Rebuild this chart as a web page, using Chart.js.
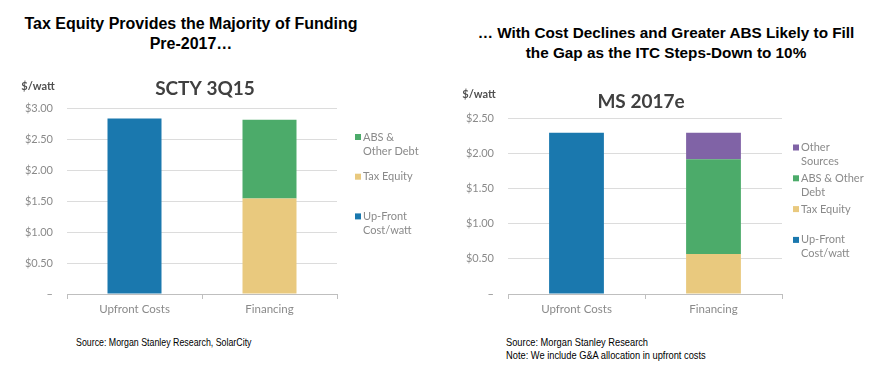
<!DOCTYPE html>
<html>
<head>
<meta charset="utf-8">
<script src="https://cdn.jsdelivr.net/npm/chart.js@4/dist/chart.umd.min.js"></script>
<style>
  html, body { margin: 0; padding: 0; background: #ffffff; }
  body { width: 874px; height: 376px; position: relative; overflow: hidden; font-family: "Liberation Sans", Arial, sans-serif; }
  .head { position: absolute; font-weight: bold; font-size: 16px; line-height: 20px; color: #000; text-align: center; white-space: nowrap; }
  .src { position: absolute; font-family: "Liberation Sans", Arial, sans-serif; font-size: 10.5px; line-height: 13px; color: #000; white-space: nowrap; transform-origin: 0 0; }
  canvas { position: absolute; }
</style>
</head>
<body>
<div class="head" style="left:0px; width:382px; top:14px;">Tax Equity Provides the Majority of Funding<br>Pre-2017…</div>
<div class="head" style="left:466px; width:400px; top:23px; font-size:15.3px;">… With Cost Declines and Greater ABS Likely to Fill<br>the Gap as the ITC Steps-Down to 10%</div>
<canvas id="c1" width="437" height="270" style="left:0px; top:60px;"></canvas>
<canvas id="c2" width="434" height="270" style="left:440px; top:60px;"></canvas>
<div class="src" style="left:76px; top:336px; transform:scaleX(0.84);">Source: Morgan Stanley Research, SolarCity</div>
<div class="src" style="left:506px; top:336px; transform:scaleX(0.885);">Source: Morgan Stanley Research<br>Note: We include G&amp;A allocation in upfront costs</div>
<script>
// ---- Data ----
const categories = ["Upfront Costs", "Financing"];

// Left chart: SCTY 3Q15
const leftTitle = "SCTY 3Q15";
const leftUpfront = [2.83, null];
const leftTaxEquity = [null, 1.54];
const leftABS = [null, 1.27];
const leftTicks = [0, 0.5, 1.0, 1.5, 2.0, 2.5, 3.0];

// Right chart: MS 2017e
const rightTitle = "MS 2017e";
const rightUpfront = [2.30, null];
const rightTaxEquity = [null, 0.57];
const rightABS = [null, 1.35];
const rightOther = [null, 0.38];
const rightTicks = [0, 0.5, 1.0, 1.5, 2.0, 2.5];

const unitLabel = "$/watt";
const leftLegendLines = {
  "Up-Front Cost/watt": ["Up-Front", "Cost/watt"],
  "Tax Equity": ["Tax Equity"],
  "ABS & Other Debt": ["ABS &", "Other Debt"]
};
const rightLegendLines = {
  "Up-Front Cost/watt": ["Up-Front", "Cost/watt"],
  "Tax Equity": ["Tax Equity"],
  "ABS & Other Debt": ["ABS & Other", "Debt"],
  "Other Sources": ["Other", "Sources"]
};

// ---- Styles ----
const BLUE = "#1a78ae", TAN = "#e9c97e", GREEN = "#4cab6a", PURPLE = "#8063a6";
const FONT = "Lato, 'Open Sans', sans-serif";
const TICK_COLOR = "#8a8a8a";
const DARK = "#404040";

const decorPlugin = {
  id: "decor",
  afterDraw(chart, args, opts) {
    const ctx = chart.ctx;
    const ca = chart.chartArea;
    ctx.save();
    // chart title
    ctx.fillStyle = DARK;
    ctx.font = "bold 19px " + FONT;
    ctx.textAlign = "center";
    ctx.textBaseline = "middle";
    ctx.fillText(opts.title, (ca.left + ca.right) / 2 + opts.titleDx, ca.top + opts.titleDy);
    // unit label
    ctx.font = "bold 11px " + FONT;
    ctx.fillStyle = "#505050";
    ctx.fillText(opts.unit, opts.unitX, ca.top + opts.unitDy);
    // legend (reverse order)
    const ds = chart.data.datasets.slice().reverse();
    let y = opts.legendTop;
    ctx.textAlign = "left";
    ctx.font = "11px " + FONT;
    ds.forEach(d => {
      const lines = opts.lines[d.label] || [d.label];
      ctx.fillStyle = d.backgroundColor;
      ctx.fillRect(opts.legendX, y - 3, 6, 6);
      ctx.fillStyle = TICK_COLOR;
      lines.forEach((ln, i) => ctx.fillText(ln, opts.legendX + 8, y + i * 14));
      y += opts.legendStep;
    });
    ctx.restore();
  }
};

function makeChart(id, datasets, ticks, yMax, padTop, padRight, yWidth, decor) {
  return new Chart(document.getElementById(id), {
    type: "bar",
    data: { labels: categories, datasets: datasets },
    plugins: [decorPlugin],
    options: {
      responsive: false,
      animation: false,
      devicePixelRatio: 1,
      layout: { padding: { top: padTop, right: padRight, left: 0, bottom: 0 } },
      plugins: { legend: { display: false }, tooltip: { enabled: false }, decor: decor },
      datasets: { bar: { categoryPercentage: 1.0, barPercentage: 0.4 } },
      scales: {
        x: {
          stacked: true,
          afterFit(s) { s.height = 36; },
          grid: { drawOnChartArea: false, drawTicks: true, tickLength: 5, color: "#bfbfbf" },
          border: { display: true, color: "#bfbfbf" },
          ticks: { color: TICK_COLOR, font: { family: FONT, size: 11.5 }, padding: 3 }
        },
        y: {
          stacked: true,
          min: 0, max: yMax,
          afterFit(s) { s.width = yWidth; },
          afterBuildTicks(s) { s.ticks = ticks.map(v => ({ value: v })); },
          grid: { color: "#dcdcdc", drawTicks: false, lineWidth: 1 },
          border: { display: false },
          ticks: {
            color: TICK_COLOR, font: { family: FONT, size: 11 }, padding: 14,
            callback: v => v === 0 ? "–" : "$" + Number(v).toFixed(2)
          }
        }
      }
    }
  });
}

makeChart("c1", [
  { label: "Up-Front Cost/watt", data: leftUpfront, backgroundColor: BLUE },
  { label: "Tax Equity", data: leftTaxEquity, backgroundColor: TAN },
  { label: "ABS & Other Debt", data: leftABS, backgroundColor: GREEN }
], leftTicks, 3.0, 48, 100, 67, {
  title: leftTitle, titleDx: 3, titleDy: -19, unit: unitLabel, unitX: 38, unitDy: -22,
  lines: leftLegendLines, legendX: 355, legendTop: 77, legendStep: 39.7
});

makeChart("c2", [
  { label: "Up-Front Cost/watt", data: rightUpfront, backgroundColor: BLUE },
  { label: "Tax Equity", data: rightTaxEquity, backgroundColor: TAN },
  { label: "ABS & Other Debt", data: rightABS, backgroundColor: GREEN },
  { label: "Other Sources", data: rightOther, backgroundColor: PURPLE }
], rightTicks, 2.5, 58.7, 92, 68, {
  title: rightTitle, titleDx: -4, titleDy: -17, unit: unitLabel, unitX: 39, unitDy: -24,
  lines: rightLegendLines, legendX: 353, legendTop: 87.5, legendStep: 30.8
});
</script>
</body>
</html>
